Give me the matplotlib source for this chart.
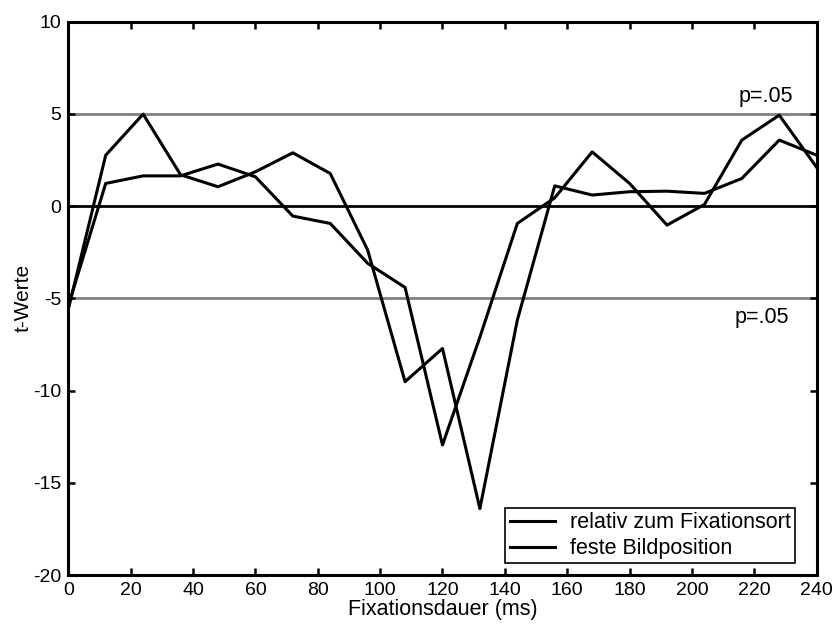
import numpy as np
import matplotlib
matplotlib.use('Agg')
import matplotlib.pyplot as plt

plt.rcParams['font.family'] = ['Liberation Sans', 'DejaVu Sans']
plt.rcParams['axes.unicode_minus'] = False

# Daten (t-Werte je 12 ms Bin)
dauer = [0, 12, 24, 36, 48, 60, 72, 84, 96, 108, 120, 132, 144, 156, 168, 180, 192, 204, 216, 228, 240]
t_relativ = [-5.6, 2.76, 4.99, 1.7, 1.05, 1.86, 2.89, 1.77, -2.38, -9.52, -7.72, -16.4, -6.18,
             1.1, 0.6, 0.78, 0.81, 0.69, 1.5, 3.58, 2.76]
t_fest = [-5.4, 1.23, 1.64, 1.64, 2.28, 1.59, -0.54, -0.94, -3.1, -4.41, -12.95, -7.1, -0.94,
          0.45, 2.94, 1.23, -1.03, 0.09, 3.58, 4.93, 2.1]
grenze = 5
x_ticks = list(range(0, 241, 20))
y_ticks = [-20, -15, -10, -5, 0, 5, 10]

fig = plt.figure(figsize=(8.39, 6.3), dpi=100)
ax = fig.add_axes([0.0814, 0.0873, 0.8920, 0.8783])

# Signifikanzgrenzen und Nulllinie
ax.axhline(grenze, color='#808080', linewidth=2.0, zorder=1)
ax.axhline(-grenze, color='#808080', linewidth=2.0, zorder=1)
ax.axhline(0, color='black', linewidth=2.0, zorder=1)

ax.plot(dauer, t_relativ, color='black', linewidth=2.2, label='relativ zum Fixationsort', zorder=3)
ax.plot(dauer, t_fest, color='black', linewidth=2.2, label='feste Bildposition', zorder=3)

ax.text(232.4, 5.4, 'p=.05', ha='right', va='bottom', fontsize=15.5)
ax.text(231, -5.45, 'p=.05', ha='right', va='top', fontsize=15.5)

ax.set_xlim(0, 240)
ax.set_ylim(-20, 10)
ax.set_xticks(x_ticks)
ax.set_yticks(y_ticks)
ax.tick_params(direction='in', length=5, width=1.8, labelsize=14,
               top=True, right=True, pad=5)
for s in ax.spines.values():
    s.set_linewidth(2.2)

ax.set_xlabel('Fixationsdauer (ms)', fontsize=15.5, labelpad=0)
ax.set_ylabel('t-Werte', fontsize=15, labelpad=0)

leg = ax.legend(loc='lower right', bbox_to_anchor=(0.971, 0.021), fontsize=15.5,
                handlelength=2.1, handletextpad=0.7, borderpad=0.2, labelspacing=0.22,
                fancybox=False, framealpha=1, borderaxespad=0)
leg.get_frame().set_edgecolor('black')
leg.get_frame().set_linewidth(1.2)

fig.savefig('out.png', dpi=100)
